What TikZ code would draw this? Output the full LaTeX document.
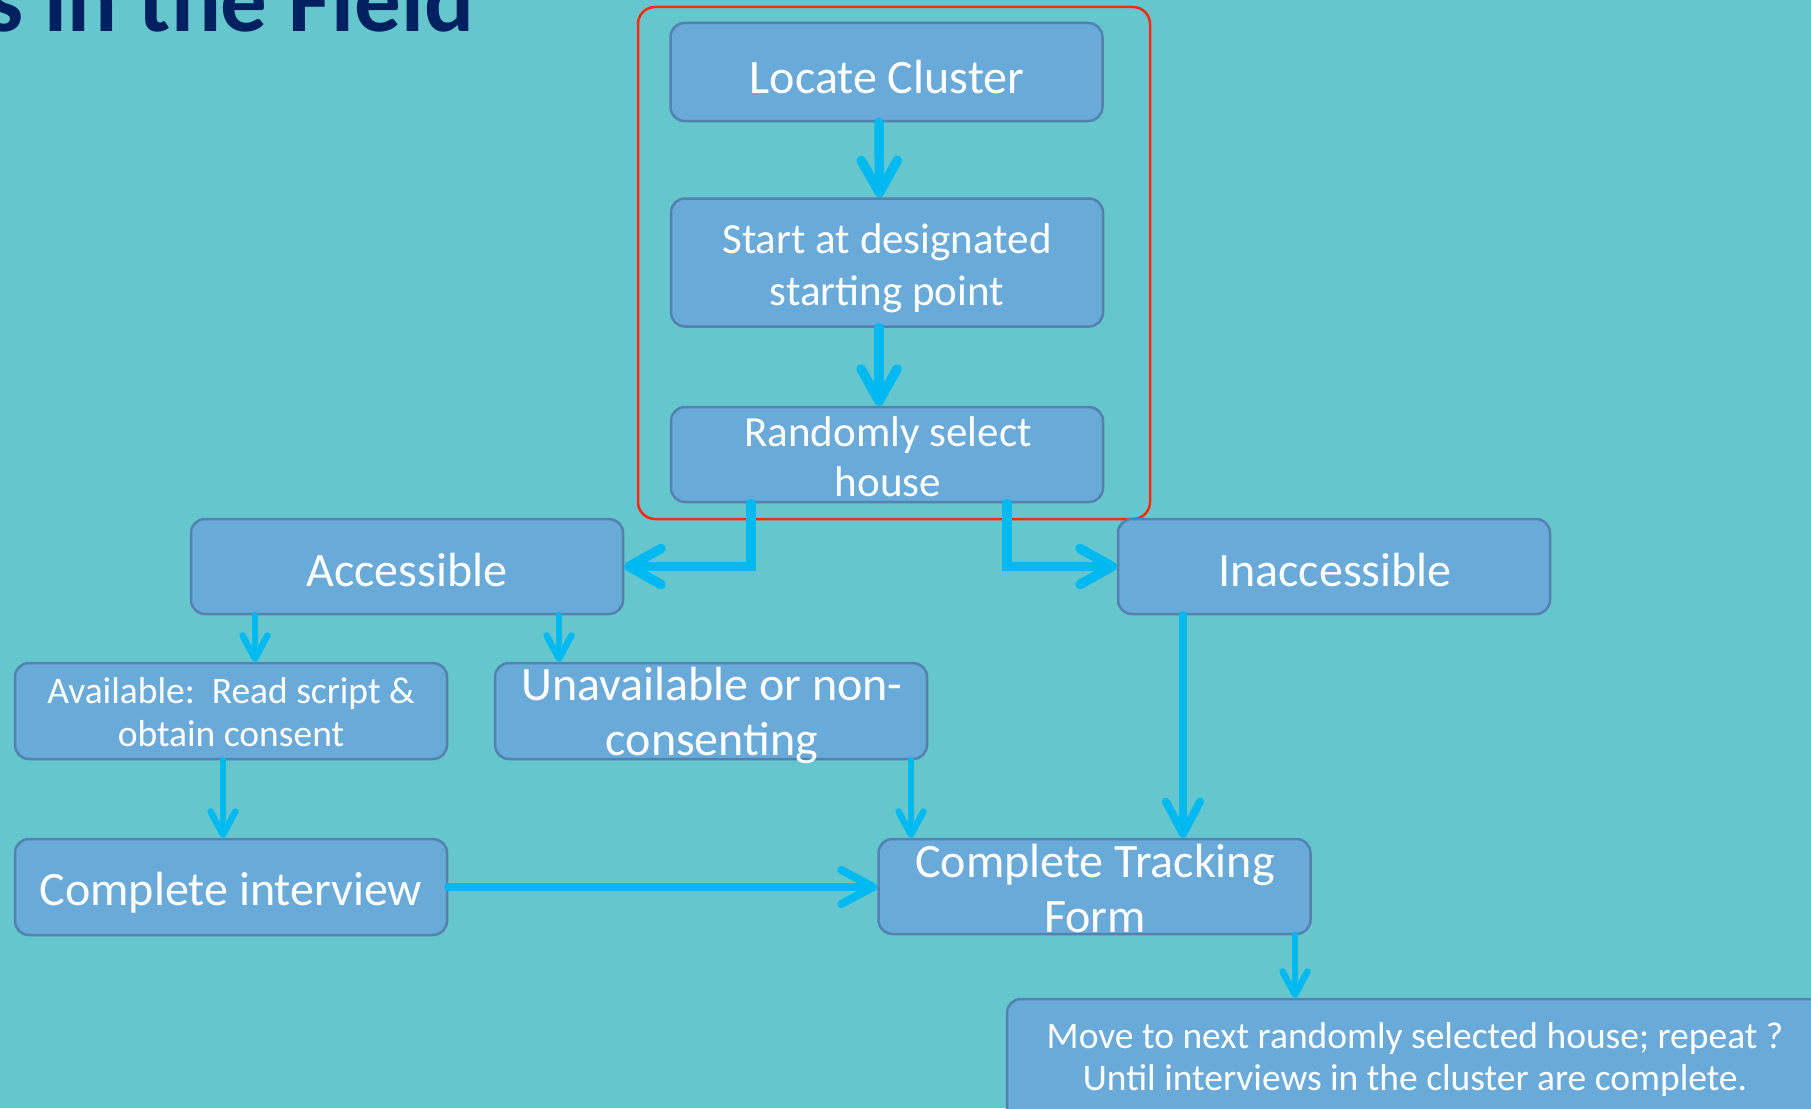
\documentclass[tikz,border=0pt]{standalone}
\usepackage{fontspec}
\setmainfont{Carlito}
\usetikzlibrary{arrows.meta}

\definecolor{bg}{HTML}{66C6CE}
\definecolor{boxfill}{HTML}{6AAAD9}
\definecolor{boxline}{HTML}{5282B0}
\definecolor{flow}{HTML}{00B9F1}
\definecolor{frame}{HTML}{FF2A0A}
\definecolor{headline}{HTML}{002060}

\tikzset{
  stepbox/.style={rectangle, draw=boxline, fill=boxfill, line width=2.5pt,
    rounded corners=14pt, inner sep=0pt, minimum width=432pt, minimum height=96pt},
  txtbase/.style={text=white, inner sep=0pt, anchor=base},
  txtL/.style={txtbase, font=\fontsize{48}{55}\selectfont},
  txtM/.style={txtbase, font=\fontsize{43}{51}\selectfont},
  txtS/.style={txtbase, font=\fontsize{37.5}{42}\selectfont},
  flowbig/.style={draw=flow, line width=9.5pt, line cap=round,
    -{Straight Barb[length=32pt, width=36pt, round]}},
  flowmid/.style={draw=flow, line width=8pt, line cap=round,
    -{Straight Barb[length=32pt, width=34pt, round]}},
  flowsmall/.style={draw=flow, line width=6.5pt, line cap=round,
    -{Straight Barb[length=23pt, width=25pt, round]}},
}

\begin{document}
\begin{tikzpicture}[x=1pt, y=-1pt]
  % page
  \fill[bg] (0,0) rectangle (1811,1108);
  \useasboundingbox (0,0) rectangle (1811,1108);

  % heading, running off the top-left corner
  \node[anchor=base east, inner sep=0pt, text=headline,
        font=\fontsize{93}{100}\selectfont\bfseries] (heading) at (474,32) {s in the Field};

  % red frame around the first three steps
  \draw[frame, line width=2.5pt, rounded corners=17pt] (638,7) rectangle (1150,519);

  % step boxes
  \node[stepbox, minimum height=98pt]  (locate)    at (886.5,72)   {};
  \node[stepbox, minimum height=128pt] (start)     at (887,262.5)  {};
  \node[stepbox, minimum height=95pt]  (random)    at (887,454.5)  {};
  \node[stepbox, minimum height=95pt]  (access)    at (407,566.5)  {};
  \node[stepbox, minimum height=95pt]  (inacc)     at (1334,566.5) {};
  \node[stepbox]                       (avail)     at (231,711)    {};
  \node[stepbox]                       (unavail)   at (711,711)    {};
  \node[stepbox]                       (interview) at (231,887)    {};
  \node[stepbox, minimum height=95pt]  (track)     at (1094.5,886.5) {};
  \node[stepbox, minimum width=823pt, minimum height=131pt] (move) at (1418.5,1064.5) {};

  % connectors
  \draw[flowbig] ([xshift=-7.5pt]locate.south) -- ([xshift=-7.5pt]start.north);
  \draw[flowbig] ([xshift=-8pt]start.south) -- ([xshift=-8pt]random.north);
  \draw[flowbig] ([xshift=-136pt]random.south) |- (access.east);
  \draw[flowbig] ([xshift=120pt]random.south) |- (inacc.west);
  \draw[flowsmall] ([xshift=-152pt]access.south) -- ([xshift=24pt]avail.north);
  \draw[flowsmall] ([xshift=152pt]access.south) -- ([xshift=-152pt]unavail.north);
  \draw[flowsmall] ([xshift=-8pt]avail.south) -- ([xshift=-8pt]interview.north);
  \draw[flowmid] (interview.east) -- (interview.east -| track.west);
  \draw[flowsmall] ([xshift=200pt]unavail.south) -- ([xshift=-183.5pt]track.north);
  \draw[flowmid] ([xshift=-151pt]inacc.south) -- ([xshift=88.5pt]track.north);
  \draw[flowsmall] ([xshift=200.5pt]track.south) -- ([xshift=-123.5pt]move.north);

  % labels
  \node[txtL] (locate-t)    at (887,93)   {Locate Cluster};
  \node[txtM] (start-t1)    at (887,253)  {Start at designated};
  \node[txtM] (start-t2)    at (887,305)  {starting point};
  \node[txtM] (random-t1)   at (888,446)  {Randomly select};
  \node[txtM] (random-t2)   at (888,496)  {house};
  \node[txtL] (access-t)    at (407,586)  {Accessible};
  \node[txtL] (inacc-t)     at (1335,586) {Inaccessible};
  \node[txtS] (avail-t1)    at (231,703)  {Available:\ \ Read script \&};
  \node[txtS] (avail-t2)    at (231,746)  {obtain consent};
  \node[txtL] (unavail-t1)  at (712,700)  {Unavailable or non-};
  \node[txtL] (unavail-t2)  at (712,755)  {consenting};
  \node[txtL] (interview-t) at (231,905)  {Complete interview};
  \node[txtL] (track-t1)    at (1095,877) {Complete Tracking};
  \node[txtL] (track-t2)    at (1095,932) {Form};
  \node[txtS] (move-t1)     at (1415,1048) {Move to next randomly selected house; repeat ?};
  \node[txtS] (move-t2)     at (1415,1090) {Until interviews in the cluster are complete.};
\end{tikzpicture}
\end{document}
